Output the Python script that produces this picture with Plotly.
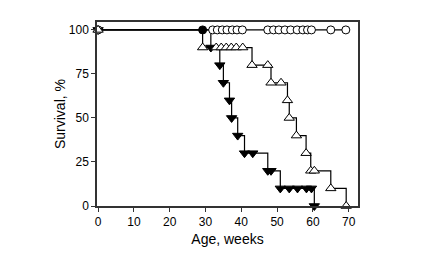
import plotly.graph_objects as go

# Group with circles (no deaths, all censored at 100 %)
circ_t = [0, 29.2, 32, 33.3, 34.7, 36, 37.5, 38.8, 40.3, 47.4, 49, 50.5, 52.2, 53.8, 55.6, 57.2, 58.5, 59.6, 65, 69.2]
circ_s = [100] * len(circ_t)
circ_fill = ["white", "black"] + ["white"] * (len(circ_t) - 2)

# Group with open triangles
open_t = [0, 29.2, 33, 34.4, 35.8, 37.2, 38.6, 40.4, 43, 47.4, 48.3, 51.1, 52.9, 53.4, 55.4, 58.1, 59.4, 60.4, 65, 69.3]
open_s = [100, 90, 90, 90, 90, 90, 90, 90, 80, 80, 70, 70, 60, 50, 40, 30, 20, 20, 10, 0]

# Group with filled (down) triangles
fill_t = [0, 31.5, 34, 35, 36.7, 37.3, 39, 40.9, 43.2, 47.4, 48.3, 50.9, 53.4, 55.7, 58.2, 59.6, 60.4]
fill_s = [100, 90, 80, 70, 60, 50, 40, 30, 30, 20, 20, 10, 10, 10, 10, 10, 0]

x_ticks = [0, 10, 20, 30, 40, 50, 60, 70]
y_ticks = [0, 25, 50, 75, 100]

fig = go.Figure()
fig.add_trace(go.Scatter(
    x=fill_t, y=fill_s, mode="lines+markers", line_shape="hv",
    line=dict(color="black", width=1.2),
    marker=dict(symbol="triangle-down", size=9, color="black", line=dict(color="black", width=1)),
    cliponaxis=False, showlegend=False))
fig.add_trace(go.Scatter(
    x=circ_t, y=circ_s, mode="lines+markers", line_shape="hv",
    line=dict(color="black", width=1.2),
    marker=dict(symbol="circle", size=8, color=circ_fill, line=dict(color="black", width=1)),
    cliponaxis=False, showlegend=False))
fig.add_trace(go.Scatter(
    x=open_t, y=open_s, mode="lines+markers", line_shape="hv",
    line=dict(color="black", width=1.2),
    marker=dict(symbol="triangle-up", size=9, color="white", line=dict(color="black", width=1)),
    cliponaxis=False, showlegend=False))

font = "Liberation Sans, Arial, sans-serif"
fig.update_layout(
    width=442, height=276,
    margin=dict(l=89, r=92, t=14, b=78, autoexpand=False),
    paper_bgcolor="white", plot_bgcolor="white",
    font=dict(family=font, size=12, color="black"),
    xaxis=dict(range=[-0.3, 72.6], tickvals=x_ticks, ticks="outside", ticklen=4,
               tickcolor="#333", showline=True, linecolor="#333", linewidth=1.5,
               mirror=True, showgrid=False, zeroline=False, automargin=False,
               title=dict(text="Age, weeks", font=dict(size=14), standoff=6),
               tickfont=dict(size=12)),
    yaxis=dict(range=[0, 104.5], tickvals=y_ticks, ticks="outside", ticklen=4,
               tickcolor="#333", showline=True, linecolor="#333", linewidth=1.5,
               mirror=True, showgrid=False, zeroline=False, automargin=False,
               title=dict(text="Survival, %", font=dict(size=14), standoff=0),
               tickfont=dict(size=12)),
)
fig.write_html("out.html")
